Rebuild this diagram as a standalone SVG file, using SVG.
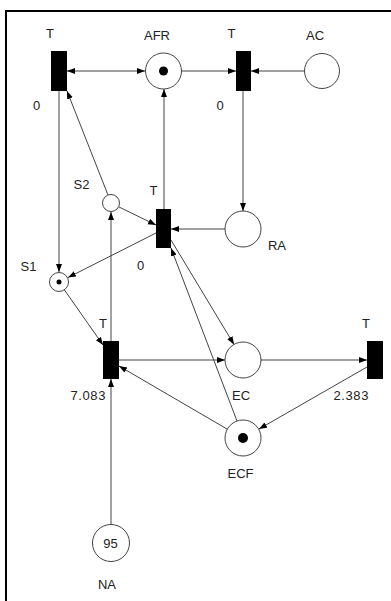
<svg xmlns="http://www.w3.org/2000/svg" width="391" height="601" viewBox="0 0 391 601">
  <style>
    .frame { stroke: #000; stroke-width: 2; fill: none; }
    .place { fill: #fff; stroke: #444; stroke-width: 1; }
    .token { fill: #000; }
    .trans { fill: #000; stroke: none; }
    .arc { stroke: #444; stroke-width: 1; fill: none; marker-end: url(#head); }
    .both { marker-start: url(#head); }
    .lbl { font-family: "Liberation Sans", Arial, sans-serif; font-size: 13px; fill: #222; text-anchor: middle; }
    .num { text-anchor: end; letter-spacing: 0.6px; }
  </style>
  <defs>
    <marker id="head" markerUnits="userSpaceOnUse" markerWidth="9" markerHeight="7" refX="8" refY="3" orient="auto-start-reverse">
      <path d="M0,0 L8,3 L0,6 z" fill="#000"/>
    </marker>
  </defs>

  <rect width="391" height="601" fill="#fff"/>
  <!-- outer frame (top and left edges) -->
  <path class="frame" d="M6,601 V11 H391"/>

  <!-- arcs -->
  <g id="arcs">
    <line class="arc both" x1="67" y1="71" x2="145" y2="71"/>
    <line class="arc" x1="181" y1="71" x2="236" y2="71"/>
    <line class="arc" x1="304" y1="71" x2="251" y2="71"/>
    <line class="arc" x1="243" y1="91" x2="243" y2="211"/>
    <line class="arc" x1="225" y1="229" x2="171" y2="229"/>
    <line class="arc" x1="164" y1="209" x2="164" y2="89"/>
    <line class="arc" x1="108" y1="195" x2="67" y2="91"/>
    <line class="arc" x1="119" y1="207" x2="156" y2="225"/>
    <line class="arc" x1="59" y1="91" x2="59" y2="272"/>
    <line class="arc" x1="156" y1="233" x2="68" y2="277.5"/>
    <line class="arc" x1="64.5" y1="290" x2="103" y2="345"/>
    <line class="arc" x1="111" y1="341" x2="111" y2="212"/>
    <line class="arc" x1="111" y1="525" x2="111" y2="379"/>
    <line class="arc" x1="119" y1="360" x2="225" y2="360"/>
    <line class="arc" x1="261" y1="360" x2="367" y2="360"/>
    <line class="arc" x1="367" y1="367" x2="259" y2="429"/>
    <line class="arc" x1="227" y1="429" x2="119" y2="366"/>
    <line class="arc" x1="237" y1="421" x2="171" y2="248"/>
    <line class="arc" x1="171" y1="240" x2="234" y2="344.5"/>
  </g>

  <!-- transitions -->
  <g id="t1">
    <rect class="trans" x="51" y="51" width="16" height="40"/>
    <text class="lbl" x="50" y="37.5">T</text>
    <text class="lbl" x="36.5" y="110">0</text>
  </g>
  <g id="t2">
    <rect class="trans" x="236" y="51" width="15" height="40"/>
    <text class="lbl" x="231.5" y="37.5">T</text>
    <text class="lbl" x="220" y="110">0</text>
  </g>
  <g id="t3">
    <rect class="trans" x="156" y="209" width="15" height="39"/>
    <text class="lbl" x="153.5" y="195">T</text>
    <text class="lbl" x="140.5" y="270">0</text>
  </g>
  <g id="t4">
    <rect class="trans" x="103" y="341" width="16" height="38"/>
    <text class="lbl" x="103" y="328">T</text>
    <text class="lbl num" x="106" y="400">7.083</text>
  </g>
  <g id="t5">
    <rect class="trans" x="367" y="341" width="16" height="38"/>
    <text class="lbl" x="366" y="328">T</text>
    <text class="lbl num" x="369" y="400">2.383</text>
  </g>

  <!-- places -->
  <g id="afr">
    <circle class="place" cx="163.5" cy="71" r="18"/>
    <circle class="token" cx="163.5" cy="71" r="4.5"/>
    <text class="lbl" x="157" y="39.5">AFR</text>
  </g>
  <g id="ac">
    <circle class="place" cx="322" cy="71" r="17.5"/>
    <text class="lbl" x="315" y="39.5">AC</text>
  </g>
  <g id="ra">
    <circle class="place" cx="243" cy="229" r="18"/>
    <text class="lbl" x="277" y="250">RA</text>
  </g>
  <g id="s2">
    <circle class="place" cx="111" cy="203" r="8.5"/>
    <text class="lbl" x="81.5" y="189">S2</text>
  </g>
  <g id="s1">
    <circle class="place" cx="59" cy="282" r="9.5"/>
    <circle class="token" cx="59" cy="282" r="2.5"/>
    <text class="lbl" x="28.5" y="271">S1</text>
  </g>
  <g id="ec">
    <circle class="place" cx="243" cy="360" r="18"/>
    <text class="lbl" x="241" y="400">EC</text>
  </g>
  <g id="ecf">
    <circle class="place" cx="243" cy="438" r="18"/>
    <circle class="token" cx="243" cy="438" r="5"/>
    <text class="lbl" x="240.5" y="478">ECF</text>
  </g>
  <g id="na">
    <circle class="place" cx="111" cy="543" r="18.5"/>
    <text class="lbl" x="110.5" y="547.5">95</text>
    <text class="lbl" x="107" y="589">NA</text>
  </g>
</svg>
